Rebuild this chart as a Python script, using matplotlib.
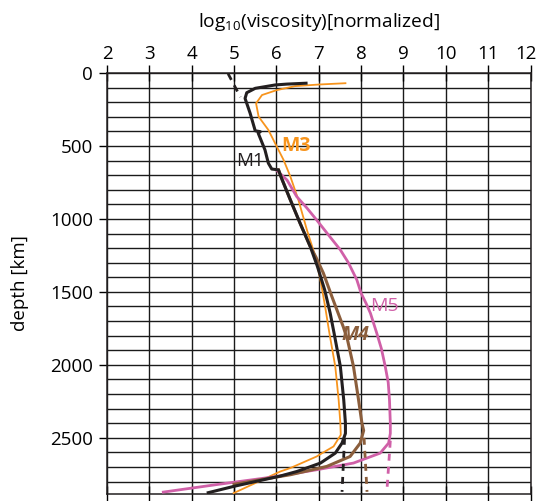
import numpy as np
import matplotlib
matplotlib.use("Agg")
import matplotlib.pyplot as plt
from matplotlib.transforms import ScaledTranslation

plt.rcParams['font.family'] = ['Open Sans', 'DejaVu Sans']
plt.rcParams['mathtext.fontset'] = 'custom'
plt.rcParams['mathtext.rm'] = 'Open Sans'
plt.rcParams['mathtext.it'] = 'Open Sans:italic'

# viscosity profiles: log10 viscosity (normalized) vs depth [km]
m1_visc = [6.70, 6.25, 5.97, 5.50, 5.30, 5.26, 5.38, 5.50, 5.62, 5.57, 5.73, 5.81, 5.89, 6.05,
           6.12, 6.33, 6.56, 6.80, 6.97, 7.14, 7.27, 7.36, 7.51, 7.59, 7.63, 7.63, 7.55, 7.39,
           7.04, 6.48, 6.09, 5.50, 4.99, 4.39]
m1_depth = [70, 76, 82, 105, 135, 174, 276, 396, 402, 412, 527, 618, 658, 664,
            720, 870, 1030, 1190, 1327, 1486, 1646, 1780, 2011, 2240, 2400, 2470, 2536, 2605,
            2673, 2731, 2762, 2800, 2833, 2876]
m1_top_visc = [4.86, 5.15]
m1_top_depth = [5, 165]
m1_cmb_visc = [7.61, 7.55]
m1_cmb_depth = [2500, 2870]

m3_visc = [7.63, 7.00, 6.44, 6.00, 5.66, 5.52, 5.58, 5.81, 6.01, 6.17, 6.33, 6.52, 6.72,
           6.92, 7.04, 7.15, 7.25, 7.39, 7.47, 7.51, 7.52, 7.35, 7.08, 6.95, 6.33, 6.09, 4.99]
m3_depth = [70, 79, 90, 118, 151, 208, 299, 390, 505, 596, 710, 870, 1075,
            1258, 1418, 1600, 1780, 2011, 2240, 2400, 2480, 2559, 2605, 2628, 2707, 2731, 2879]

m4_visc = [6.05, 6.12, 6.33, 6.56, 6.80, 6.93, 7.11, 7.31, 7.45, 7.58, 7.68, 7.82, 7.94,
           8.02, 8.06, 7.98, 7.74, 7.19, 6.33, 5.85, 5.00]
m4_depth = [664, 720, 870, 1030, 1190, 1260, 1372, 1532, 1640, 1740, 1830, 2011, 2240,
            2400, 2450, 2536, 2628, 2696, 2753, 2776, 2818]
m4_cmb_visc = [8.07, 8.14]
m4_cmb_depth = [2500, 2870]

m5_visc = [6.00, 6.25, 6.48, 6.72, 6.95, 7.23, 7.51, 7.70, 7.90, 8.00, 8.12, 8.22, 8.37,
           8.48, 8.57, 8.64, 8.67, 8.69, 8.69, 8.65, 8.45, 7.82, 6.95, 6.00, 4.60, 3.33]
m5_depth = [665, 733, 847, 925, 1007, 1110, 1212, 1300, 1418, 1509, 1580, 1646, 1783,
            1890, 2011, 2120, 2240, 2400, 2470, 2536, 2605, 2673, 2719, 2765, 2820, 2872]
m5_cmb_visc = [8.69, 8.61]
m5_cmb_depth = [2520, 2860]

c_black = '#231f20'
c_orange = '#f7941d'
c_brown = '#8b5e3c'
c_pink = '#d060a8'

fig = plt.figure(figsize=(5.38, 5.01), dpi=100)
ax = fig.add_axes([107/538, 1 - 494/501, (530.5-107)/538, (494-73)/501])

ax.set_xlim(2, 12)
ax.set_ylim(2885, 0)

ax.set_xticks(np.arange(2, 13, 1))
ax.set_yticks(np.arange(0, 2501, 500))
ax.set_yticks(np.arange(0, 2885, 100), minor=True)
ax.grid(True, which='both', color='#1a1a1a', lw=1.0)
ax.set_axisbelow(True)

ax.xaxis.tick_top()
ax.xaxis.set_ticks_position('both')
ax.tick_params(axis='x', which='major', direction='inout', length=11, width=1,
               labelsize=13.5, labeltop=True, labelbottom=False, pad=2)
ax.tick_params(axis='y', which='major', direction='out', length=6, width=1,
               labelsize=13.5, pad=4)
ax.tick_params(axis='y', which='minor', length=0)
for s in ax.spines.values():
    s.set_linewidth(1.1)
    s.set_color(c_black)

# nudge the last top label so it stays inside the figure
last = ax.xaxis.get_major_ticks()[-1].label2
last.set_transform(last.get_transform() + ScaledTranslation(-0.05, 0, fig.dpi_scale_trans))

ax.xaxis.set_label_position('top')
ax.set_xlabel(r'log$_{10}$(viscosity)[normalized]', fontsize=13.8, labelpad=13)
ax.set_ylabel('depth [km]', fontsize=13.5, labelpad=15)

ax.plot(m3_visc, m3_depth, color=c_orange, lw=1.3, zorder=3)
ax.plot(m5_visc, m5_depth, color=c_pink, lw=2.0, zorder=3)
ax.plot(m5_cmb_visc, m5_cmb_depth, color=c_pink, lw=2.0, ls=(0, (2.5, 2.2)), zorder=3)
ax.plot(m4_visc, m4_depth, color=c_brown, lw=2.2, zorder=4)
ax.plot(m4_cmb_visc, m4_cmb_depth, color=c_brown, lw=2.0, ls=(0, (2.5, 2.2)), zorder=4)
ax.plot(m1_visc, m1_depth, color=c_black, lw=2.2, zorder=5)
ax.plot(m1_top_visc, m1_top_depth, color=c_black, lw=2.0, ls=(0, (2.5, 2.2)), zorder=5)
ax.plot(m1_cmb_visc, m1_cmb_depth, color=c_black, lw=2.0, ls=(0, (2.5, 2.2)), zorder=5)

ax.text(5.37, 600, 'M1', color=c_black, fontsize=13.5, ha='center', va='center', zorder=6)
ax.text(6.46, 500, 'M3', color=c_orange, fontsize=14, fontweight='bold',
        ha='center', va='center', zorder=6)
ax.text(7.86, 1796, 'M4', color=c_brown, fontsize=14, fontweight='bold', style='italic',
        ha='center', va='center', zorder=6)
ax.text(8.56, 1597, 'M5', color=c_pink, fontsize=14, ha='center', va='center', zorder=6)

fig.savefig('out.png', dpi=100)
